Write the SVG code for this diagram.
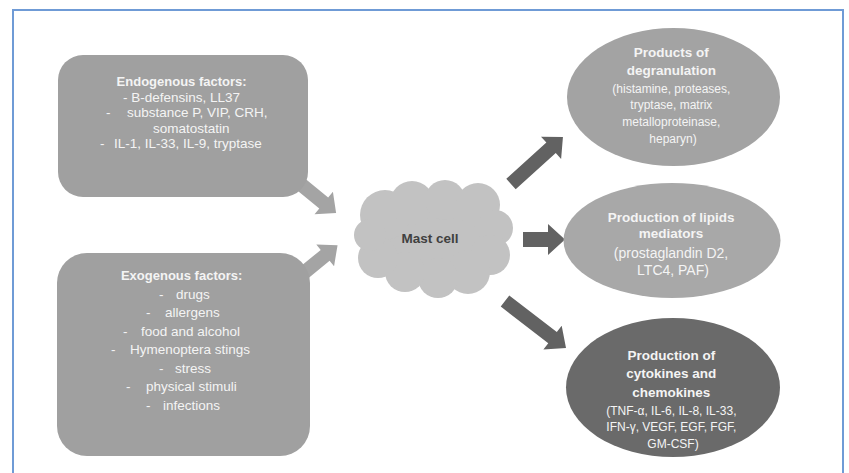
<svg xmlns="http://www.w3.org/2000/svg" width="849" height="473" viewBox="0 0 849 473">
<style>
.frame{fill:#ffffff;stroke:#6f9bd6;stroke-width:2}
.box{fill:#a0a0a0}
.cloud{fill:#c2c2c2}
.t{font-family:"Liberation Sans",Arial,sans-serif;fill:#f4f4f4}
.b{font-weight:bold}
.arrL{fill:#a4a4a4}
.arrR{fill:#626262}
</style>
<rect class="frame" x="13" y="10" width="830" height="470"/>

<g id="connectors">
  <polygon class="arrL" transform="translate(292,177) rotate(39.3)" points="0,-7 41,-7 41,-14.5 57,0 41,14.5 41,7 0,7"/>
  <polygon class="arrL" transform="translate(295,280) rotate(-39.3)" points="0,-7 39,-7 39,-14 55,0 39,14 39,7 0,7"/>
  <polygon class="arrR" transform="translate(511,184) rotate(-42.1)" points="0,-7 54,-7 54,-15 70,0 54,15 54,7 0,7"/>
  <polygon class="arrR" transform="translate(523,239.5)" points="0,-7.5 25,-7.5 25,-15.5 42,0 25,15.5 25,7.5 0,7.5"/>
  <polygon class="arrR" transform="translate(505,301) rotate(37.6)" points="0,-7 60,-7 60,-15 77,0 60,15 60,7 0,7"/>
</g>

<g id="endogenous">
  <rect class="box" x="58" y="55" width="250" height="142" rx="25"/>
  <text class="t" font-size="13.5">
    <tspan class="b" x="183.5" y="86" text-anchor="middle" font-size="13">Endogenous factors:</tspan>
    <tspan x="123" y="101.5">- B-defensins, LL37</tspan>
    <tspan x="106" y="117">-</tspan><tspan x="127" y="117">substance P, VIP, CRH,</tspan>
    <tspan x="153" y="132.5">somatostatin</tspan>
    <tspan x="100" y="148">-</tspan><tspan x="114" y="148">IL-1, IL-33, IL-9, tryptase</tspan>
  </text>
</g>

<g id="exogenous">
  <rect class="box" x="57" y="253" width="253" height="203" rx="30"/>
  <text class="t" font-size="13.5">
    <tspan class="b" x="183.5" y="280" text-anchor="middle" font-size="13">Exogenous factors:</tspan>
    <tspan x="159" y="298.5">-</tspan><tspan x="176" y="298.5">drugs</tspan>
    <tspan x="146" y="317">-</tspan><tspan x="165" y="317">allergens</tspan>
    <tspan x="123" y="335.5">-</tspan><tspan x="141" y="335.5">food and alcohol</tspan>
    <tspan x="111" y="354">-</tspan><tspan x="130" y="354">Hymenoptera stings</tspan>
    <tspan x="159" y="372.5">-</tspan><tspan x="175" y="372.5">stress</tspan>
    <tspan x="126" y="391">-</tspan><tspan x="146" y="391">physical stimuli</tspan>
    <tspan x="146" y="409.5">-</tspan><tspan x="163" y="409.5">infections</tspan>
  </text>
</g>

<g id="mastcell">
  <g class="cloud">
    <ellipse cx="434" cy="240" rx="62" ry="42"/>
    <circle cx="385" cy="215" r="25"/>
    <circle cx="412" cy="203" r="22"/>
    <circle cx="445" cy="200" r="20"/>
    <circle cx="478" cy="205" r="22"/>
    <circle cx="495" cy="228" r="18"/>
    <circle cx="490" cy="255" r="20"/>
    <circle cx="468" cy="272" r="22"/>
    <circle cx="438" cy="278" r="20"/>
    <circle cx="405" cy="272" r="20"/>
    <circle cx="378" cy="258" r="20"/>
    <circle cx="370" cy="235" r="16"/>
  </g>
  <text class="t b" x="430" y="243" text-anchor="middle" font-size="13.5" style="fill:#404040">Mast cell</text>
</g>

<g id="degranulation">
  <ellipse cx="673.5" cy="97" rx="106.5" ry="69" fill="#a3a3a3"/>
  <text class="t" text-anchor="middle" font-size="12">
    <tspan class="b" x="673" y="57" font-size="13.5">Products of</tspan>
    <tspan class="b" x="673" y="75" font-size="13.5">degranulation</tspan>
    <tspan x="673" y="92.5">(histamine, proteases,</tspan>
    <tspan x="673" y="108.5">tryptase, matrix</tspan>
    <tspan x="673" y="125.5">metalloproteinase,</tspan>
    <tspan x="673" y="142.5">heparyn)</tspan>
  </text>
</g>

<g id="lipids">
  <ellipse cx="672" cy="240.5" rx="108.5" ry="57.5" fill="#a8a8a8"/>
  <text class="t" text-anchor="middle" font-size="14">
    <tspan class="b" x="673" y="222" font-size="13.5">Production of lipids</tspan>
    <tspan class="b" x="673" y="238" font-size="13.5">mediators</tspan>
    <tspan x="673" y="258">(prostaglandin D2,</tspan>
    <tspan x="673" y="275">LTC4, PAF)</tspan>
  </text>
</g>

<g id="cytokines">
  <ellipse cx="673" cy="387.5" rx="107" ry="69.5" fill="#6a6a6a"/>
  <text class="t" text-anchor="middle" font-size="12">
    <tspan class="b" x="673" y="360" font-size="13.5">Production of</tspan>
    <tspan class="b" x="673" y="378" font-size="13.5">cytokines and</tspan>
    <tspan class="b" x="673" y="397" font-size="13.5">chemokines</tspan>
    <tspan x="673" y="414.5">(TNF-α, IL-6, IL-8, IL-33,</tspan>
    <tspan x="673" y="430.5">IFN-γ, VEGF, EGF, FGF,</tspan>
    <tspan x="673" y="447.5">GM-CSF)</tspan>
  </text>
</g>
</svg>
